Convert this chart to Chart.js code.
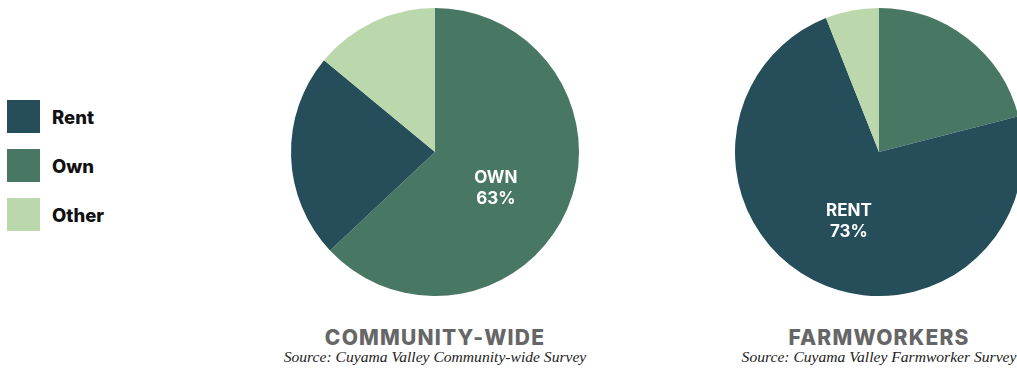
<!DOCTYPE html>
<html>
<head>
<meta charset="utf-8">
<script src="https://cdn.jsdelivr.net/npm/chart.js@4"></script>
<style>
  html, body { margin: 0; padding: 0; background: #fff; }
  body { width: 1017px; height: 372px; position: relative; overflow: hidden; font-family: "Inter", "Roboto", sans-serif; }
  .pie { position: absolute; top: 2px; width: 300px; height: 300px; }
  #legend { position: absolute; left: 7px; top: 100px; }
  .item { display: flex; align-items: center; height: 33px; margin-bottom: 16px; font-weight: 800; font-size: 18.5px; color: #111; }
  .item span { display: inline-block; width: 33px; height: 33px; margin-right: 12px; }
  .title { position: absolute; width: 400px; text-align: center; font-family: "Inter", sans-serif; font-weight: 800; font-size: 21px; color: #666; top: 325px; letter-spacing: 1.2px; }
  .source { position: absolute; width: 400px; text-align: center; font-family: "Liberation Serif", serif; font-style: italic; font-size: 15.6px; color: #222; top: 348px; }
</style>
</head>
<body>
<div id="legend"></div>
<canvas id="community" class="pie" width="300" height="300" style="left:285px"></canvas>
<canvas id="farm" class="pie" width="300" height="300" style="left:729px"></canvas>
<div class="title" style="left:235px">COMMUNITY-WIDE</div>
<div class="source" style="left:235px">Source: Cuyama Valley Community-wide Survey</div>
<div class="title" style="left:679px">FARMWORKERS</div>
<div class="source" style="left:679px">Source: Cuyama Valley Farmworker Survey</div>
<script>
// データ（時計回り、上から）
const categories = ['Own', 'Rent', 'Other'];
const communityValues = [63, 23, 14];
const farmworkerValues = [21, 73, 6];
const legendOrder = ['Rent', 'Own', 'Other'];
const colors = { Rent: '#254d5a', Own: '#487864', Other: '#bad8ab' };

// 凡例
const legend = document.getElementById('legend');
legendOrder.forEach(name => {
  const div = document.createElement('div');
  div.className = 'item';
  div.innerHTML = '<span style="background:' + colors[name] + '"></span>' + name;
  legend.appendChild(div);
});

// 一番大きいスライスにラベルを描く
const bigLabel = {
  id: 'bigLabel',
  afterDatasetsDraw(chart) {
    const data = chart.data.datasets[0].data;
    const i = data.indexOf(Math.max(...data));
    const arc = chart.getDatasetMeta(0).data[i];
    const mid = (arc.startAngle + arc.endAngle) / 2;
    const r = arc.outerRadius * 0.46;
    const x = arc.x + Math.cos(mid) * r;
    const y = arc.y + Math.sin(mid) * r;
    const ctx = chart.ctx;
    ctx.save();
    ctx.fillStyle = '#fff';
    ctx.font = 'bold 17px Inter, Roboto, sans-serif';
    ctx.textAlign = 'center';
    ctx.textBaseline = 'middle';
    ctx.fillText(chart.data.labels[i].toUpperCase(), x, y);
    ctx.fillText(data[i] + '%', x, y + 21);
    ctx.restore();
  }
};

function makePie(id, values) {
  new Chart(document.getElementById(id), {
    type: 'pie',
    data: {
      labels: categories,
      datasets: [{
        data: values,
        backgroundColor: categories.map(c => colors[c]),
        borderWidth: 0
      }]
    },
    options: {
      responsive: false,
      animation: false,
      layout: { padding: 6 },
      plugins: { legend: { display: false }, tooltip: { enabled: false } }
    },
    plugins: [bigLabel]
  });
}

makePie('community', communityValues);
makePie('farm', farmworkerValues);
</script>
</body>
</html>
